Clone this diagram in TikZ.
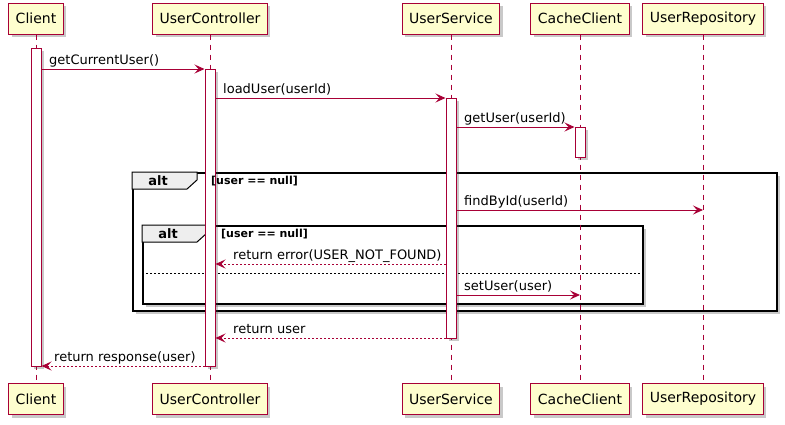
\documentclass[tikz,border=0pt]{standalone}
\usepackage{fontspec}
\setmainfont{DejaVu Sans}
\usetikzlibrary{arrows.meta,shadows}
\definecolor{pb}{HTML}{A80036}
\definecolor{pf}{HTML}{FEFECE}
\definecolor{tabf}{HTML}{EEEEEE}
\begin{document}
\begin{tikzpicture}[x=1pt,y=-1pt,
  shad/.style={drop shadow={shadow xshift=3pt,shadow yshift=-3pt,opacity=0.3,fill=black!70}},
  part/.style={draw=pb,fill=pf,line width=1pt,inner xsep=7pt,inner ysep=0pt,minimum height=31pt,font=\fontsize{14}{16}\selectfont,shad},
  life/.style={draw=pb,line width=0.8pt,dash pattern=on 5pt off 5pt},
  act/.style={draw=pb,fill=white,line width=1pt,minimum width=10pt,inner sep=0pt,shad},
  msg/.style={draw=pb,line width=1pt,-{Stealth[length=10pt,width=9pt,inset=4pt]}},
  ret/.style={msg,dash pattern=on 2pt off 2pt},
  lbl/.style={anchor=base west,inner sep=0pt,font=\fontsize{13}{15}\selectfont},
  frm/.style={draw=black,fill=white,line width=1.5pt,inner sep=0pt,anchor=north west,shad},
  tabbox/.style={draw=black,fill=tabf,line width=1pt},
  alttxt/.style={anchor=base,inner sep=0pt,font=\bfseries\fontsize{13}{15}\selectfont},
  cond/.style={anchor=base west,inner sep=0pt,font=\bfseries\fontsize{11}{13}\selectfont},
  sep/.style={draw=black,line width=0.8pt,dash pattern=on 2pt off 2pt}]
\useasboundingbox (0,0) rectangle (785,424);

% frames
\node[frm,minimum width=644pt,minimum height=138pt] (altO) at (132,172) {};
\draw[tabbox] (132,172) -- (197,172) -- (197,180) -- (187,189) -- (132,189) -- cycle;
\node[alttxt] (altOl) at (158,185) {alt};
\node[frm,minimum width=500pt,minimum height=78pt] (altI) at (142,225) {};
\draw[tabbox] (142,225) -- (207,225) -- (207,233) -- (197,242) -- (142,242) -- cycle;
\node[alttxt] (altIl) at (168,238) {alt};
\draw[sep] (altI.west |- 0,273) -- (altI.east |- 0,273);

% participants
\node[part] (tC) at (36,18.5) {Client};
\node[part] (bC) at (36,399) {Client};
\node[part] (tUC) at (210,18.5) {UserController};
\node[part] (bUC) at (210,399) {UserController};
\node[part] (tUS) at (451,18.5) {UserService};
\node[part] (bUS) at (451,399) {UserService};
\node[part] (tCC) at (580,18.5) {CacheClient};
\node[part] (bCC) at (580,399) {CacheClient};
\node[part] (tUR) at (703,18.5) {UserRepository};
\node[part] (bUR) at (703,399) {UserRepository};

% lifelines
\draw[life] (tC) -- (bC);
\draw[life] (tUC) -- (bUC);
\draw[life] (tUS) -- (bUS);
\draw[life] (tCC) -- (bCC);
\draw[life] (tUR) -- (bUR);

% activations
\node[act,minimum height=318pt] (aC) at (36,207) {};
\node[act,minimum height=297pt] (aUC) at (210,217.5) {};
\node[act,minimum height=240pt] (aUS) at (451,218) {};
\node[act,minimum height=30pt] (aCC) at (580,142) {};

% frame conditions
\node[cond] (altOc) at (211,184) {[user == null]};
\node[cond] (altIc) at (221,237) {[user == null]};

% messages
\draw[msg] (aC.east |- 0,69) -- (aUC.west |- 0,69);
\node[lbl] (m1) at (49,64) {getCurrentUser()};
\draw[msg] (aUC.east |- 0,98) -- (aUS.west |- 0,98);
\node[lbl] (m2) at (223,93) {loadUser(userId)};
\draw[msg] (aUS.east |- 0,127) -- (aCC.west |- 0,127);
\node[lbl] (m3) at (464,122) {getUser(userId)};
\draw[msg] (aUS.east |- 0,210) -- (tUR.south |- 0,210);
\node[lbl] (m4) at (464,205) {findById(userId)};
\draw[ret] (aUS.west |- 0,264) -- (aUC.east |- 0,264);
\node[lbl] (m5) at (233,259) {return error(USER\_NOT\_FOUND)};
\draw[msg] (aUS.east |- 0,295) -- (tCC.south |- 0,295);
\node[lbl] (m6) at (464,290) {setUser(user)};
\draw[ret] (aUS.west |- 0,338) -- (aUC.east |- 0,338);
\node[lbl] (m7) at (233,333) {return user};
\draw[ret] (aUC.west |- 0,366) -- (aC.east |- 0,366);
\node[lbl] (m8) at (54,361) {return response(user)};
\end{tikzpicture}
\end{document}
